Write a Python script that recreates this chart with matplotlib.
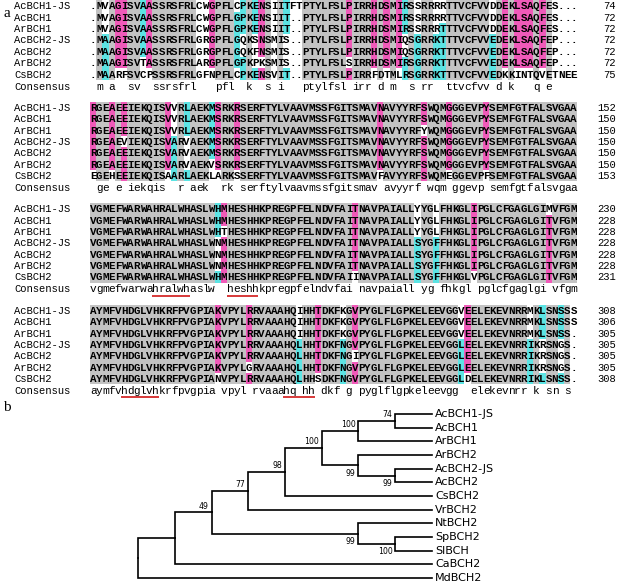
import matplotlib
matplotlib.use("Agg")
import matplotlib.pyplot as plt
from collections import Counter

# sequence names, one alignment row each
names = ["AcBCH1-JS", "AcBCH1", "ArBCH1", "AcBCH2-JS", "AcBCH2", "ArBCH2", "CsBCH2"]

block1 = [
    ".MVAGISVAASSRSFRLCWGPFLCPKENSIITFTPTYLFSLPIRRHDSMIRSSRRRRTTVCFVVDDEKLSAQFES...",
    ".MVAGISVAASSRSFRLCWGPFLGPKENSIIT..PTYLFSLPIRRHDSMIRSSRRRRTTVCFVVDDEKLSAQFES...",
    ".MVAGISVAASSRSFRLCWGPFLGPKENSIIT..PTYLFSLPIRRHDSMIRSSRRRTTTVCFVVDDEKLSAQFES...",
    ".MAAGISVAASSRSFRLGRGPFLGQKSNSMIS..PTYLFSLPIRRHDSMIQSGRRKTTTVCFVVEDEKLSAQFEP...",
    ".MAAGISVAASSRSFRLGRGPFLGQKFNSMIS..PTYLFSLPIRRHDSMIQSGRRKTTTVCFVVEDEKLSAQFEP...",
    ".MAAGISVTASSRSFRLARGPFLGPKPKSMIS..PTYLFSLSIRRHDSMIRSGRRKTTTVCFVVEDEKLSAQFEP...",
    ".MAARFSVCPSSRSFRLGFNPFLCPKENSVIT..PTYLFSLPIRRFDTMLRSGRRKTTTVCFVVEDKKINTQVETNEE",
]
block2 = [
    "RGEAEEIEKQISVVRLAEKMSRKRSERFTYLVAAVMSSFGITSMAVNAVYYRFSWQMGGGEVPYSEMFGTFALSVGAA",
    "RGEAEEIEKQISVVRLAEKMSRKRSERFTYLVAAVMSSFGITSMAVNAVYYRFSWQMGGGEVPYSEMFGTFALSVGAA",
    "RGEAEEIEKQISVVRLAEKMSRKRSERFTYLVAAVMSSFGITSMAVNAVYYRFYWQMGGGEVPYSEMFGTFALSVGAA",
    "RGEAEVIEKQISVARVAEKMSRKRSERFTYLVAAVMSSFGITSMAVNAVYYRFSWQMGGGEVPYSEMFGTFALSVGAA",
    "RGEAEEIEKQISVARVAEKMSRKRSERFTYLVAAVMSSFGITSMAVNAVYYRFSWQMGGGEVPYSEMFGTFALSVGAA",
    "RGEAEEIEKQISVARVAEKVSRKRSERFTYLVAAVMSSFGITSMAVNAVYYRFSWQMGGGEVPYSEMFGTFALSVGAA",
    "EGEHEEIEKQISAARLAEKLARKSSERFTYLVAAVMSSFGITSMAVFAVYYRFSWQMEGGEVPFSEMFGTFALSVGAA",
]
block3 = [
    "VGMEFWARWAHRALWHASLWHMHESHHKPREGPFELNDVFAITNAVPAIALLYYGLFHKGLIPGLCFGAGLGIMVFGM",
    "VGMEFWARWAHRALWHASLWHMHESHHKPREGPFELNDVFAITNAVPAIALLYYGLFHKGLIPGLCFGAGLGITVFGM",
    "VGMEFWARWAHRALWHASLWHTHESHHKPREGPFELNDVFAITNAVPAIALLYYGLFHKGLIPGLCFGAGLGITVFGM",
    "VGMEFWARWAHRALWHASLWNMHESHHKPREGPFELNDVFAITNAVPAIALLSYGFFHKGLIPGLCFGAGLGITVFGM",
    "VGMEFWARWAHRALWHASLWNMHESHHKPREGPFELNDVFAITNAVPAIALLSYGFFHKGLIPGLCFGAGLGITVFGM",
    "VGMEFWARWAHRALWHASLWNMHESHHKPREGPFELNDVFAITNAVPAIALLSYGFFHKGLIPGLCFGAGLGITVFGM",
    "VGMEFWARWAHRALWHASLWHMHESHHKPREGPFELNDVFAIINAVPAIALLSYGFFHKGLVPGLCFGAGLGITVFGM",
]
block4 = [
    "AYMFVHDGLVHKRFPVGPIAKVPYLRRVAAAHQIHHTDKFKGVPYGLFLGPKELEEVGGVEELEKEVNRRMKLSNSSS",
    "AYMFVHDGLVHKRFPVGPIAKVPYLRRVAAAHQIHHTDKFKGVPYGLFLGPKELEEVGGVEELEKEVNRRMKLSNSSS",
    "AYMFVHDGLVHKRFPVGPIAKVPYLRRVAAAHQIHHTDKFKGVPYGLFLGPKELEEVGGVEELEKEVNRRMKLSNSS.",
    "AYMFVHDGLVHKRFPVGPIAKVPYLRRVAAAHQLHHTDKFNGVPYGLFLGPKELEEVGGLEELEKEVNRRIKRSNGS.",
    "AYMFVHDGLVHKRFPVGPIAKVPYLRRVAAAHQLHHTDKFNGIPYGLFLGPKELEEVGGLEELEKEVNRRIKRSNGS.",
    "AYMFVHDGLVHKRFPVGPIAKVPYLGRVAAAHQLHHTDKFNGVPYGLFLGPKELEEVGGLEELEKEVNRRIKRSNGS.",
    "AYMFVHDGLVHKRFPVGPIANVPYLRRVAAAHQLHHSDKFNGVPYGLFLGPKELEEVGGLDELEKEVNRRIKLSNSS.",
]
blocks = [block1, block2, block3, block4]

# residue number at the end of each row
end_numbers = [
    [74, 72, 72, 72, 72, 72, 75],
    [152, 150, 150, 150, 150, 150, 153],
    [230, 228, 228, 228, 228, 228, 231],
    [308, 306, 305, 305, 305, 305, 308],
]

# underlined histidine motifs: (block, first column, last column), columns from 1
motifs = [(2, 11, 16), (2, 23, 27), (3, 6, 11), (3, 32, 36)]

# tree: (child, child, bootstrap)
tree = (
    ((((((("AcBCH1-JS", "AcBCH1", 74), "ArBCH1", 100),
          ("ArBCH2", ("AcBCH2-JS", "AcBCH2", 99), 99), 100),
         "CsBCH2", 98),
        "VrBCH2", 77),
       ("NtBCH2", ("SpBCH2", "SlBCH", 100), 99), 49),
      "CaBCH2", None),
    "MdBCH2", None)

GRAY = "#c3c3c3"
PINK = "#f05ab9"
CYAN = "#5ce4e4"
MONO = "Liberation Mono"

fig = plt.figure(figsize=(6.22, 5.83), dpi=100)
ax = fig.add_axes([0, 0, 1, 1])
ax.set_xlim(0, 622)
ax.set_ylim(583, 0)
ax.axis("off")

x0, cw = 90, 6.24          # first column, column width
rh, block_gap = 11.35, 101.5

lefts, tops, colors = [], [], []
for b, rows in enumerate(blocks):
    top = 6 + b * block_gap
    ys = [top + i * rh for i in range(len(rows))]
    cons_y = ys[-1] + 12
    consensus = ""
    for c in range(78):
        col = [r[c] for r in rows]
        counts = Counter(ch for ch in col if ch != ".")
        if not counts:
            consensus += " "
            continue
        res, n = counts.most_common(1)[0]
        if n == 7:
            fill = GRAY
        elif n == 6:
            fill = PINK
        elif n >= 4:
            fill = CYAN
        else:
            fill = None
        consensus += res.lower() if n == 7 else " "
        if fill:
            for i, ch in enumerate(col):
                if ch == res:
                    lefts.append(x0 + c * cw)
                    tops.append(ys[i] - rh / 2)
                    colors.append(fill)

    for i, row in enumerate(rows):
        ax.text(14, ys[i] + 3.4, names[i], fontfamily=MONO, fontsize=7.6, va="baseline")
        for c, ch in enumerate(row):
            ax.text(x0 + (c + 0.5) * cw, ys[i] + 3.4, ch, fontfamily=MONO,
                    fontweight="bold", fontsize=7.8, ha="center", va="baseline")
        ax.text(616, ys[i] + 3.4, str(end_numbers[b][i]), fontfamily=MONO,
                fontsize=7.6, ha="right", va="baseline")
    ax.text(14, cons_y + 3.4, "Consensus", fontfamily=MONO, fontsize=7.6, va="baseline")
    for c, ch in enumerate(consensus):
        if ch != " ":
            ax.text(x0 + (c + 0.5) * cw, cons_y + 3.4, ch, fontfamily=MONO,
                    fontsize=8, ha="center", va="baseline")
    for mb, c1, c2 in motifs:
        if mb == b:
            ax.plot([x0 + (c1 - 1) * cw, x0 + c2 * cw], [cons_y + 6.8] * 2,
                    color="#d42a2a", lw=1.3, solid_capstyle="butt")

ax.bar(lefts, [rh] * len(lefts), width=cw, bottom=tops, align="edge",
       color=colors, linewidth=0, zorder=0)

ax.text(3, 17, "a", fontfamily="Liberation Serif", fontsize=11)
ax.text(3, 411, "b", fontfamily="Liberation Serif", fontsize=11)

# ---- tree ----
axt = fig.add_axes([138 / 622, 1 - 578 / 583, (432 - 138) / 622, (578 - 414) / 583])
axt.set_ylim(12, 0)
axt.axis("off")

leaves = []


def height(node):
    if isinstance(node, str):
        return 0
    return 1 + max(height(node[0]), height(node[1]))


depth = height(tree)
axt.set_xlim(0, depth)


def draw(node, side=None):
    if isinstance(node, str):
        y = len(leaves)
        leaves.append(node)
        axt.annotate(node, (depth, y), xytext=(2.2, 0), textcoords="offset points",
                     va="center", fontsize=8, family="DejaVu Sans", annotation_clip=False)
        return depth, y
    a, b, boot = node
    x = depth - height(node)
    xa, ya = draw(a, "up")
    xb, yb = draw(b, "down")
    y = (ya + yb) / 2
    for xc, yc in ((xa, ya), (xb, yb)):
        axt.plot([x, x, xc], [y, yc, yc], color="black", lw=1.2,
                 solid_joinstyle="miter", clip_on=False)
    if boot is not None:
        up = side == "up"
        axt.annotate(str(boot), (x, y), xytext=(-2, 1.2 if up else -2.5),
                     textcoords="offset points", ha="right",
                     va="bottom" if up else "top", fontsize=5.6,
                     family="DejaVu Sans", annotation_clip=False)
    return x, y


draw(tree)

fig.savefig("out.png", dpi=100, facecolor="white")
